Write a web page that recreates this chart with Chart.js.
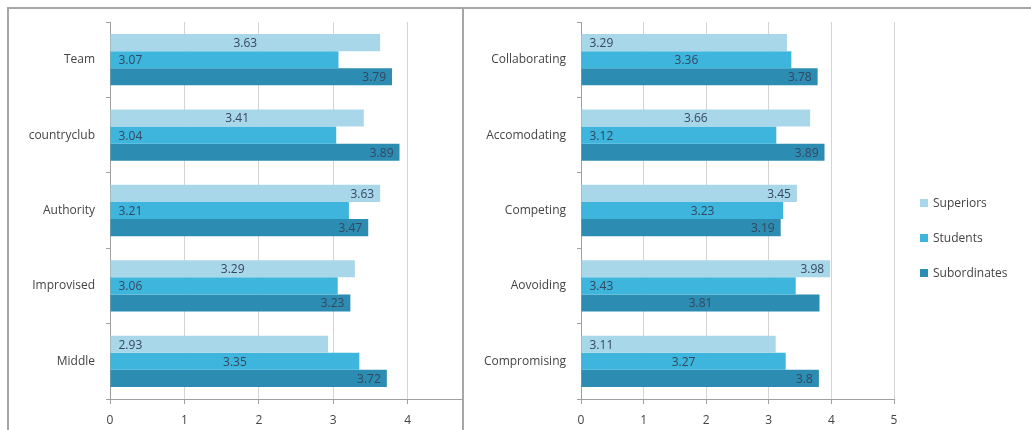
<!DOCTYPE html>
<html>
<head>
<meta charset="utf-8">
<script src="https://cdn.jsdelivr.net/npm/chart.js@4"></script>
<style>
  body { margin: 0; background: #fff; font-family: "Open Sans", sans-serif; }
  #frame { position: absolute; left: 7px; top: 7px; width: 1024px; height: 423px;
           border-top: 2px solid #a6a6a6; border-left: 2px solid #a6a6a6; box-sizing: border-box; }
  #divider { position: absolute; left: 462px; top: 7px; width: 2px; height: 423px; background: #a6a6a6; }
  .box { position: absolute; top: 9px; height: 421px; }
  #leftBox { left: 9px; width: 453px; }
  #rightBox { left: 464px; width: 567px; }
  #legend { position: absolute; left: 920px; top: 194px; font-size: 12px; color: #444; }
  .item { height: 35px; display: flex; align-items: flex-start; }
  .sw { width: 8px; height: 8px; margin: 5px 5px 0 0; }
</style>
</head>
<body>
<div id="frame"></div>
<div id="divider"></div>
<div class="box" id="leftBox"><canvas id="leftChart"></canvas></div>
<div class="box" id="rightBox"><canvas id="rightChart"></canvas></div>
<div id="legend"></div>
<script>
// series
const seriesNames = ['Superiors', 'Students', 'Subordinates'];
const seriesColors = ['#a9d7ea', '#3db5dc', '#2c8cb2'];

// left panel
const leftCategories = ['Team', 'countryclub', 'Authority', 'Improvised', 'Middle'];
const leftSuperiors = [3.63, 3.41, 3.63, 3.29, 2.93];
const leftStudents = [3.07, 3.04, 3.21, 3.06, 3.35];
const leftSubordinates = [3.79, 3.89, 3.47, 3.23, 3.72];

// right panel
const rightCategories = ['Collaborating', 'Accomodating', 'Competing', 'Aovoiding', 'Compromising'];
const rightSuperiors = [3.29, 3.66, 3.45, 3.98, 3.11];
const rightStudents = [3.36, 3.12, 3.23, 3.43, 3.27];
const rightSubordinates = [3.78, 3.89, 3.19, 3.81, 3.8];

const leftTicks = [0, 1, 2, 3, 4];
const rightTicks = [0, 1, 2, 3, 4, 5];

// where each value label sits along its bar (0 = start, 0.5 = middle, 1 = end)
const leftLabelPos = [
    [0.5, 0.5, 1, 0.5, 0],
    [0, 0, 0, 0, 0.5],
    [1, 1, 1, 1, 1]
];
const rightLabelPos = [
    [0, 0.5, 1, 1, 0],
    [0.5, 0, 0.6, 0, 0.5],
    [1, 1, 1, 0.5, 1]
];

const valueLabels = {
    id: 'valueLabels',
    afterDatasetsDraw(chart, args, opts) {
        const ctx = chart.ctx;
        ctx.save();
        ctx.font = '12px "Open Sans", sans-serif';
        ctx.fillStyle = '#35475f';
        ctx.textBaseline = 'middle';
        chart.data.datasets.forEach((ds, di) => {
            chart.getDatasetMeta(di).data.forEach((bar, i) => {
                const f = opts.pos[di][i];
                const start = bar.base, end = bar.x;
                let x;
                if (f === 0) { ctx.textAlign = 'left'; x = start + 8; }
                else if (f === 1) { ctx.textAlign = 'right'; x = end - 6; }
                else { ctx.textAlign = 'center'; x = start + f * (end - start); }
                ctx.fillText(String(ds.data[i]), x, bar.y + 1);
            });
        });
        ctx.restore();
    }
};

function makeChart(id, categories, values, max, ticks, yWidth, padRight, labelPos) {
    const ctx = document.getElementById(id).getContext('2d');
    return new Chart(ctx, {
        type: 'bar',
        data: {
            labels: categories,
            datasets: values.map((v, i) => ({
                label: seriesNames[i],
                data: v,
                backgroundColor: seriesColors[i],
                categoryPercentage: 0.68,
                barPercentage: 1
            }))
        },
        options: {
            indexAxis: 'y',
            responsive: true,
            maintainAspectRatio: false,
            animation: false,
            layout: { padding: { top: 13, right: padRight } },
            plugins: {
                legend: { display: false },
                tooltip: { enabled: false },
                valueLabels: { pos: labelPos }
            },
            scales: {
                x: {
                    min: 0,
                    max: max,
                    afterBuildTicks: s => { s.ticks = ticks.map(v => ({ value: v })); },
                    afterFit: s => { s.height = 31; },
                    grid: { color: '#d4d4d4', tickLength: 5, tickColor: '#a0a0a0' },
                    border: { color: '#a0a0a0' },
                    ticks: { color: '#444', font: { family: 'Open Sans', size: 12 }, padding: 9 }
                },
                y: {
                    afterFit: s => { s.width = yWidth; s.paddingTop = 0; s.paddingBottom = 0; },
                    grid: { drawOnChartArea: false, offset: true, tickLength: 4, tickColor: '#a0a0a0' },
                    border: { color: '#a0a0a0' },
                    ticks: { color: '#444', font: { family: 'Open Sans', size: 12 }, padding: 11 }
                }
            }
        },
        plugins: [valueLabels]
    });
}

makeChart('leftChart', leftCategories, [leftSuperiors, leftStudents, leftSubordinates],
    4.73, leftTicks, 101, 0, leftLabelPos);
makeChart('rightChart', rightCategories, [rightSuperiors, rightStudents, rightSubordinates],
    5, rightTicks, 117, 137, rightLabelPos);

// legend
document.getElementById('legend').innerHTML = seriesNames.map((n, i) => `
    <div class="item"><div class="sw" style="background:${seriesColors[i]}"></div>${n}</div>
`).join('');
</script>
</body>
</html>
